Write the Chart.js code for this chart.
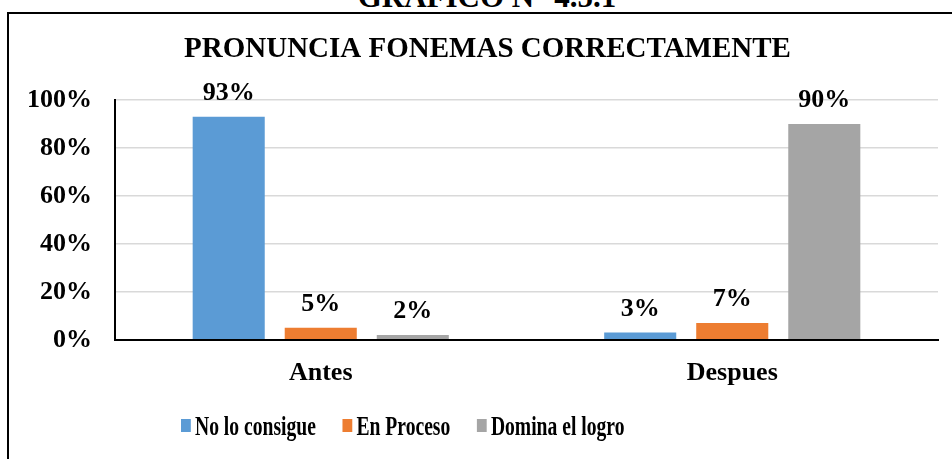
<!DOCTYPE html>
<html>
<head>
<meta charset="utf-8">
<script src="https://cdn.jsdelivr.net/npm/chart.js@4.4.1/dist/chart.umd.min.js"></script>
<style>
  html, body { margin: 0; padding: 0; background: #fff; overflow: hidden; }
  #wrap { position: relative; width: 952px; height: 459px; overflow: hidden; }
  #frame { position: absolute; left: 7px; top: 12px; width: 960px; height: 470px;
           border-top: 2px solid #000; border-left: 2px solid #000; }
  #heading { position: absolute; left: 0; width: 974px; top: -19px; text-align: center;
             font: bold 31px "Liberation Serif", "Times New Roman", serif; line-height: 31px;
             white-space: nowrap; color: #000; }
  canvas { position: absolute; left: 0; top: 0; }
</style>
</head>
<body>
<div id="wrap">
  <div id="heading">GRÁFICO N° 4.5.1</div>
  <div id="frame"></div>
  <canvas id="chart" width="952" height="459"></canvas>
</div>
<script>
// values (percent)
const categories = ["Antes", "Despues"];
const seriesNames = ["No lo consigue", "En Proceso", "Domina el logro"];
const noLoConsigue = [93, 3];
const enProceso = [5, 7];
const dominaLogro = [2, 90];
const yTicks = [0, 20, 40, 60, 80, 100];
const chartTitle = "PRONUNCIA FONEMAS CORRECTAMENTE";

const colors = ["#5B9BD5", "#ED7D31", "#A5A5A5"];
const SERIF = "'Liberation Serif', 'Times New Roman', serif";

// title, value labels above the bars, and a horizontally condensed legend
const decorations = {
  id: "decorations",
  afterDatasetsDraw(chart) {
    const ctx = chart.ctx;
    ctx.save();
    ctx.fillStyle = "#000";
    ctx.textAlign = "center";
    ctx.textBaseline = "alphabetic";
    ctx.font = "bold 29px " + SERIF;
    ctx.fillText(chartTitle, 487.5, 57);

    ctx.font = "bold 26px " + SERIF;
    chart.data.datasets.forEach((ds, i) => {
      chart.getDatasetMeta(i).data.forEach((bar, j) => {
        ctx.fillText(ds.data[j] + "%", bar.x, bar.y - 17);
      });
    });
    ctx.restore();

    // legend
    ctx.save();
    ctx.translate(181, 0);
    ctx.scale(0.7, 1);
    ctx.font = "bold 28px " + SERIF;
    ctx.textAlign = "left";
    ctx.textBaseline = "alphabetic";
    let x = 0;
    chart.data.datasets.forEach((ds) => {
      ctx.fillStyle = ds.backgroundColor;
      ctx.fillRect(x, 419, 14, 13);
      x += 20;
      ctx.fillStyle = "#000";
      ctx.fillText(ds.label, x, 435);
      x += ctx.measureText(ds.label).width + 38;
    });
    ctx.restore();
  }
};

new Chart(document.getElementById("chart"), {
  type: "bar",
  data: {
    labels: categories,
    datasets: [noLoConsigue, enProceso, dominaLogro].map((d, i) => ({
      label: seriesNames[i],
      data: d,
      backgroundColor: colors[i],
      borderWidth: 0,
      barPercentage: 0.783,
      categoryPercentage: 0.671,
    })),
  },
  options: {
    responsive: false,
    animation: false,
    layout: { padding: { left: 20, right: 14, top: 100, bottom: 60 } },
    plugins: {
      legend: { display: false },
      tooltip: { enabled: false },
      title: { display: false },
    },
    scales: {
      x: {
        grid: { display: false },
        border: { color: "#000", width: 2 },
        ticks: { color: "#000", font: { family: SERIF, size: 26, weight: "bold" }, padding: 10 },
      },
      y: {
        min: 0,
        max: 100,
        afterBuildTicks(scale) { scale.ticks = yTicks.map(v => ({ value: v })); },
        afterFit(scale) { scale.width = 95; },
        grid: { color: "#D9D9D9", lineWidth: 1.5, drawTicks: false },
        border: { color: "#000", width: 2 },
        ticks: {
          color: "#000",
          padding: 23,
          font: { family: SERIF, size: 26, weight: "bold" },
          callback: v => v + "%",
        },
      },
    },
  },
  plugins: [decorations],
});
</script>
</body>
</html>
